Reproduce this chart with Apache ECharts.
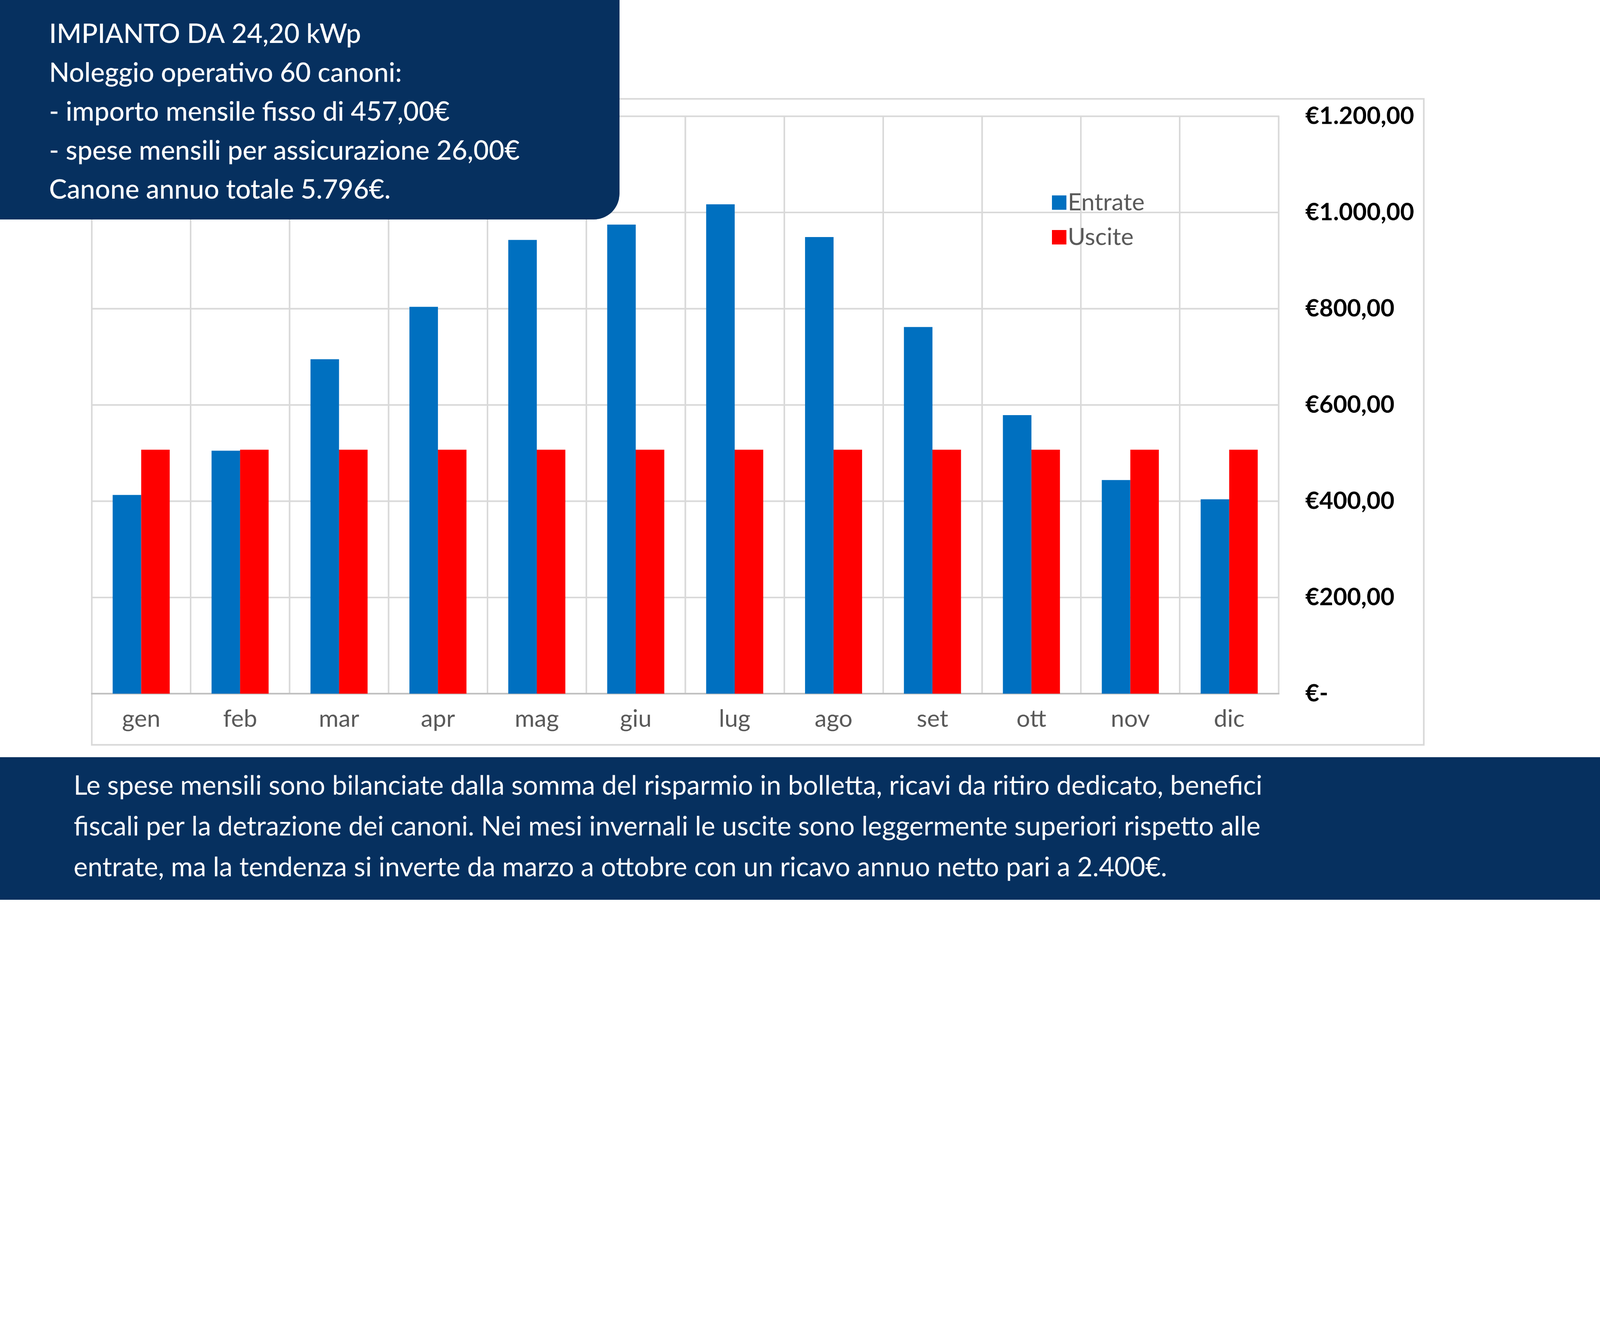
<!DOCTYPE html>
<html>
<head>
<meta charset="utf-8">
<script src="https://cdn.jsdelivr.net/npm/echarts@6/dist/echarts.min.js"></script>
<style>html,body{margin:0;padding:0;background:#fff;overflow:hidden}#chart{width:6000px;height:3375px;transform-origin:0 0}</style>
</head>
<body>
<div id="chart"></div>
<script>
var months = ['gen','feb','mar','apr','mag','giu','lug','ago','set','ott','nov','dic'];
var entrate = [413, 505, 695, 804, 943, 975, 1017, 949, 762, 579, 444, 404];
var uscite = [507, 507, 507, 507, 507, 507, 507, 507, 507, 507, 507, 507];
var boxLines = [
	'IMPIANTO DA 24,20 kWp',
	'Noleggio operativo 60 canoni:',
	'- importo mensile fisso di 457,00€',
	'- spese mensili per assicurazione 26,00€',
	'Canone annuo totale 5.796€.'
];
var noteLines = [
	'Le spese mensili sono bilanciate dalla somma del risparmio in bolletta, ricavi da ritiro dedicato, benefici',
	'fiscali per la detrazione dei canoni. Nei mesi invernali le uscite sono leggermente superiori rispetto alle',
	'entrate, ma la tendenza si inverte da marzo a ottobre con un ricavo annuo netto pari a 2.400€.'
];
var navy = '#06305f';
var font = 'Lato';

// fit the fixed 6000x3375 drawing into whatever viewport we get
var el = document.getElementById('chart');
var sc = Math.min(window.innerWidth / 6000, window.innerHeight / 3375);
if (sc > 0 && sc < 1) el.style.transform = 'scale(' + sc + ')';

function euro(v) {
	if (v === 0) return '€-';
	var s = String(v).replace(/\B(?=(\d{3})+(?!\d))/g, '.');
	return '€' + s + ',00';
}

var chart = echarts.init(el);
var graphics = [
	{ type: 'rect', z: 0, shape: { x: 344, y: 371, width: 4995, height: 2423 },
	  style: { fill: 'none', stroke: '#d9d9d9', lineWidth: 6 } },
	{ type: 'rect', z: 10, shape: { x: -100, y: -100, width: 2423, height: 923, r: 96 },
	  style: { fill: navy } },
	{ type: 'rect', z: 10, shape: { x: 0, y: 2840, width: 6000, height: 535 },
	  style: { fill: navy } }
];
boxLines.forEach(function (t, i) {
	graphics.push({ type: 'text', z: 11, left: 184, top: 134 + i * 146 - 55,
		style: { text: t, fill: '#fff', font: '500 100px ' + font } });
});
noteLines.forEach(function (t, i) {
	graphics.push({ type: 'text', z: 11, left: 276, top: 2954 + i * 153 - 55,
		style: { text: t, fill: '#fff', font: '400 100px ' + font } });
});

chart.setOption({
	animation: false,
	textStyle: { fontFamily: font },
	grid: { left: 344, right: 6000 - 4795, top: 436, bottom: 3375 - 2602 },
	legend: {
		orient: 'vertical', left: 3940, top: 710, itemWidth: 54, itemHeight: 54, itemGap: 40,
		icon: 'rect', textStyle: { fontSize: 90, color: '#595959', fontFamily: font },
		data: ['Entrate', 'Uscite']
	},
	xAxis: {
		type: 'category', data: months,
		axisLine: { lineStyle: { color: '#bfbfbf', width: 6 } },
		axisTick: { show: false },
		splitLine: { show: true, lineStyle: { color: '#d9d9d9', width: 6 } },
		axisLabel: { fontSize: 90, color: '#595959', margin: 50 }
	},
	yAxis: {
		type: 'value', position: 'right', min: 0, max: 1200, interval: 200,
		axisLine: { show: true, lineStyle: { color: '#d9d9d9', width: 6 } },
		splitLine: { lineStyle: { color: '#d9d9d9', width: 6 } },
		axisLabel: { fontSize: 90, fontWeight: 'bold', color: '#000', margin: 100, formatter: euro }
	},
	series: [
		{ name: 'Entrate', type: 'bar', data: entrate, barWidth: 107, barGap: '0%', itemStyle: { color: '#0070c0' } },
		{ name: 'Uscite', type: 'bar', data: uscite, barWidth: 107, itemStyle: { color: '#ff0000' } }
	],
	graphic: graphics
});
</script>
</body>
</html>
